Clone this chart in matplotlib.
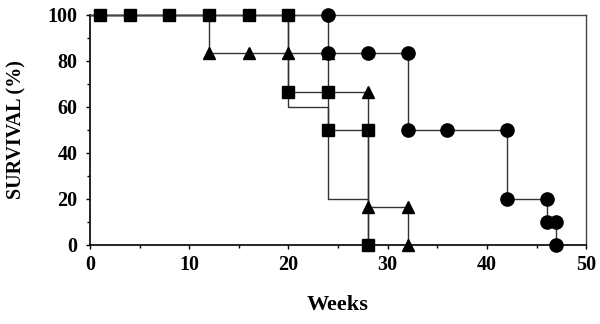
import matplotlib
matplotlib.use("Agg")
import matplotlib.pyplot as plt
from matplotlib.ticker import MultipleLocator

# Series (weeks, survival %)
circle_t = [0, 24, 24, 28, 32, 32, 36, 42, 42, 46, 46, 47, 47]
circle_s = [100, 100, 83.3, 83.3, 83.3, 50, 50, 50, 20, 20, 10, 10, 0]
circle_marks = [1, 2, 3, 4, 5, 6, 7, 8, 9, 10, 11, 12]

tri_t = [0, 12, 12, 16, 20, 24, 24, 28, 28, 28, 32, 32]
tri_s = [100, 100, 83.3, 83.3, 83.3, 83.3, 66.7, 66.7, 16.7, 16.7, 16.7, 0]
tri_marks = [2, 3, 4, 5, 7, 8, 10, 11]

sq_t = [0, 1, 4, 8, 12, 16, 20, 20, 24, 24, 28, 28]
sq_s = [100, 100, 100, 100, 100, 100, 100, 66.7, 66.7, 50, 50, 0]
sq_marks = [1, 2, 3, 4, 5, 6, 7, 8, 9, 10, 11]

plain_t = [20, 20, 24, 24, 28, 28]
plain_s = [100, 60, 60, 20, 20, 0]

x_ticks = [0, 10, 20, 30, 40, 50]
y_ticks = [0, 20, 40, 60, 80, 100]

plt.rcParams['font.family'] = ['Liberation Serif', 'DejaVu Serif']

fig = plt.figure(figsize=(6.0, 3.24), dpi=100)
ax = fig.add_axes([0.15, 0.244, 0.827, 0.71])

lw = 1.0
ax.plot(plain_t, plain_s, color='#333333', lw=lw, clip_on=False, zorder=2)
ax.plot(sq_t, sq_s, color='#333333', lw=lw, clip_on=False, zorder=2)
ax.plot(tri_t, tri_s, color='#333333', lw=lw, clip_on=False, zorder=2)
ax.plot(circle_t, circle_s, color='#333333', lw=lw, clip_on=False, zorder=2)

ax.plot([tri_t[i] for i in tri_marks], [tri_s[i] for i in tri_marks], linestyle='none',
        marker='^', ms=9, color='black', clip_on=False, zorder=3)
ax.plot([sq_t[i] for i in sq_marks], [sq_s[i] for i in sq_marks], linestyle='none',
        marker='s', ms=8.5, color='black', clip_on=False, zorder=4)
ax.plot([circle_t[i] for i in circle_marks], [circle_s[i] for i in circle_marks], linestyle='none',
        marker='o', ms=9.5, color='black', clip_on=False, zorder=5)

ax.set_xlim(0, 50)
ax.set_ylim(0, 100)
ax.set_xticks(x_ticks)
ax.set_yticks(y_ticks)
ax.xaxis.set_minor_locator(MultipleLocator(5))
ax.yaxis.set_minor_locator(MultipleLocator(10))
ax.tick_params(which='major', direction='out', length=3, width=1, labelsize=14.5)
ax.tick_params(axis='y', which='major', pad=6)
ax.tick_params(axis='x', which='major', pad=4)
ax.tick_params(which='minor', direction='out', length=2, width=1)
for lab in ax.get_xticklabels() + ax.get_yticklabels():
    lab.set_fontweight('bold')

for s in ['left', 'bottom']:
    ax.spines[s].set_linewidth(1.2)
    ax.spines[s].set_color('black')
for s in ['top', 'right']:
    ax.spines[s].set_linewidth(1.0)
    ax.spines[s].set_color('#444444')

ax.set_xlabel('Weeks', fontsize=16, fontweight='bold', va='center')
ax.set_ylabel('SURVIVAL (%)', fontsize=14.5, fontweight='bold', va='center')
ax.xaxis.set_label_coords(0.5, (245 - 305) / 229.3)
ax.yaxis.set_label_coords((17 - 90) / 496.0, 0.5)

fig.savefig('out.png', dpi=100)
